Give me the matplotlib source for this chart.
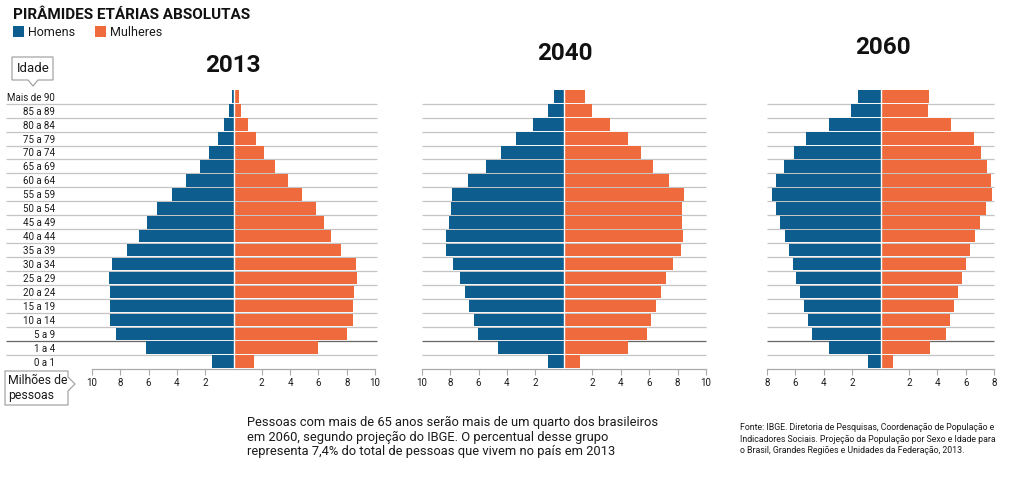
import matplotlib.pyplot as plt
from matplotlib.patches import Polygon, Rectangle

plt.rcParams["font.family"] = ["Roboto", "DejaVu Sans"]

# age groups, bottom to top
ages = ["0 a 1", "1 a 4", "5 a 9", "10 a 14", "15 a 19", "20 a 24", "25 a 29",
        "30 a 34", "35 a 39", "40 a 44", "45 a 49", "50 a 54", "55 a 59",
        "60 a 64", "65 a 69", "70 a 74", "75 a 79", "80 a 84", "85 a 89",
        "Mais de 90"]

years = ["2013", "2040", "2060"]

# millions of people
men_2013 = [1.50, 6.20, 8.30, 8.72, 8.72, 8.70, 8.82, 8.60, 7.50, 6.67, 6.12,
            5.40, 4.36, 3.37, 2.40, 1.70, 1.13, 0.66, 0.33, 0.14]
women_2013 = [1.46, 6.00, 8.00, 8.41, 8.46, 8.50, 8.76, 8.65, 7.63, 6.88, 6.41,
              5.80, 4.83, 3.84, 2.90, 2.17, 1.60, 1.04, 0.52, 0.38]

men_2040 = [1.08, 4.62, 6.05, 6.33, 6.66, 6.96, 7.34, 7.81, 8.28, 8.28, 8.09,
            7.95, 7.85, 6.73, 5.46, 4.45, 3.40, 2.18, 1.15, 0.66]
women_2040 = [1.13, 4.50, 5.84, 6.10, 6.45, 6.80, 7.20, 7.71, 8.25, 8.37, 8.28,
              8.32, 8.42, 7.43, 6.28, 5.44, 4.50, 3.24, 1.99, 1.52]

men_2060 = [0.89, 3.65, 4.82, 5.11, 5.39, 5.69, 5.95, 6.16, 6.44, 6.74, 7.05,
            7.35, 7.61, 7.35, 6.79, 6.09, 5.25, 3.63, 2.08, 1.59]
women_2060 = [0.87, 3.51, 4.59, 4.87, 5.18, 5.48, 5.74, 6.02, 6.32, 6.65, 7.00,
              7.45, 7.87, 7.78, 7.49, 7.07, 6.56, 4.99, 3.35, 3.42]

men = [men_2013, men_2040, men_2060]
women = [women_2013, women_2040, women_2060]
xmax = [10, 10, 8]

BLUE = "#0d5e8f"
ORANGE = "#ef6a3d"
GRID = "#c4c4c4"
TXT = "#1a1a1a"

W, H = 1024, 483
fig = plt.figure(figsize=(W / 100, H / 100), dpi=100)


def fx(x):
    return x / W


def fy(y):
    return 1 - y / H


# panel placement in pixels: (left, right) of the data range
panels = [(92, 375), (421.7, 706), (766.7, 994.3)]
line_ext = [(-16.1, 10.15), (-10, 10), (-8, 8)]
title_pos = [(233, 66), (565, 53), (883, 47)]
top_px, bot_px = 89.7, 368.7

ypos = list(range(len(ages)))

for i in range(3):
    l, r = panels[i]
    ax = fig.add_axes([fx(l), fy(bot_px), (r - l) / W, (bot_px - top_px) / H])
    m = xmax[i]
    ax.barh(ypos, [-v for v in men[i]], height=0.9, color=BLUE, zorder=2)
    ax.barh(ypos, women[i], height=0.9, color=ORANGE, zorder=2)
    ax.axvline(0, color="white", lw=1.0, zorder=3)
    a, b = line_ext[i]
    for k in range(len(ages) - 1):
        c = "#666666" if k == 1 else GRID
        ax.plot([a, b], [k + 0.5, k + 0.5], color=c, lw=0.9, zorder=1,
                clip_on=False, solid_capstyle="butt")
    ax.set_xlim(-m, m)
    ax.set_ylim(-0.5, len(ages) - 0.5)
    for s in ["top", "right", "left"]:
        ax.spines[s].set_visible(False)
    ax.spines["bottom"].set_color("#aaaaaa")
    ax.spines["bottom"].set_linewidth(0.9)
    ticks = [t for t in range(-m, m + 1, 2) if t != 0]
    ax.set_xticks(ticks)
    ax.set_xticklabels([str(abs(t)) for t in ticks])
    ax.tick_params(axis="x", length=4, width=0.8, color="#aaaaaa",
                   labelsize=7, labelcolor=TXT, pad=3)
    if i == 0:
        ax.set_yticks(ypos)
        ax.set_yticklabels(ages)
        ax.tick_params(axis="y", length=0, labelsize=7, labelcolor=TXT,
                       pad=26.5)
    else:
        ax.set_yticks([])
    tx, ty = title_pos[i]
    fig.text(fx(tx), fy(ty), years[i], ha="center", va="center",
             fontsize=17.5, fontweight="bold", color="#111111")

# overlay for boxes, legend and header
ov = fig.add_axes([0, 0, 1, 1], zorder=-1)
ov.set_xlim(0, W)
ov.set_ylim(H, 0)
ov.axis("off")

ov.add_patch(Polygon([(12, 57), (53, 57), (53, 80), (38, 80), (33, 86),
                      (28, 80), (12, 80)], closed=True, fc="white",
                     ec="#999999", lw=0.8))
ov.text(33, 68.5, "Idade", ha="center", va="center", fontsize=9.5, color=TXT)
ov.add_patch(Polygon([(5, 371), (68, 371), (68, 377), (75, 384), (68, 391),
                      (68, 405), (5, 405)], closed=True, fc="white",
                     ec="#999999", lw=0.8))
ov.text(8, 381, "Milhões de", ha="left", va="center", fontsize=8.8, color=TXT)
ov.text(8, 396, "pessoas", ha="left", va="center", fontsize=8.8, color=TXT)

ov.text(13, 15, "PIRÂMIDES ETÁRIAS ABSOLUTAS", ha="left", va="center",
        fontsize=11, fontweight="bold", color="#111111")
ov.add_patch(Rectangle((13, 26), 11, 11, fc=BLUE, ec="none"))
ov.text(28, 32, "Homens", ha="left", va="center", fontsize=9, color=TXT)
ov.add_patch(Rectangle((95, 26), 11, 11, fc=ORANGE, ec="none"))
ov.text(110, 32, "Mulheres", ha="left", va="center", fontsize=9, color=TXT)

note = ("Pessoas com mais de 65 anos serão mais de um quarto dos brasileiros\n"
        "em 2060, segundo projeção do IBGE. O percentual desse grupo\n"
        "representa 7,4% do total de pessoas que vivem no país em 2013")
ov.text(247, 416, note, ha="left", va="top", fontsize=9.3, color=TXT,
        linespacing=1.15)

source = ("Fonte: IBGE. Diretoria de Pesquisas, Coordenação de População e\n"
          "Indicadores Sociais. Projeção da População por Sexo e Idade para\n"
          "o Brasil, Grandes Regiões e Unidades da Federação, 2013.")
ov.text(740, 423, source, ha="left", va="top", fontsize=6.3, color=TXT,
        linespacing=1.35)

fig.savefig("out.png", dpi=100)
